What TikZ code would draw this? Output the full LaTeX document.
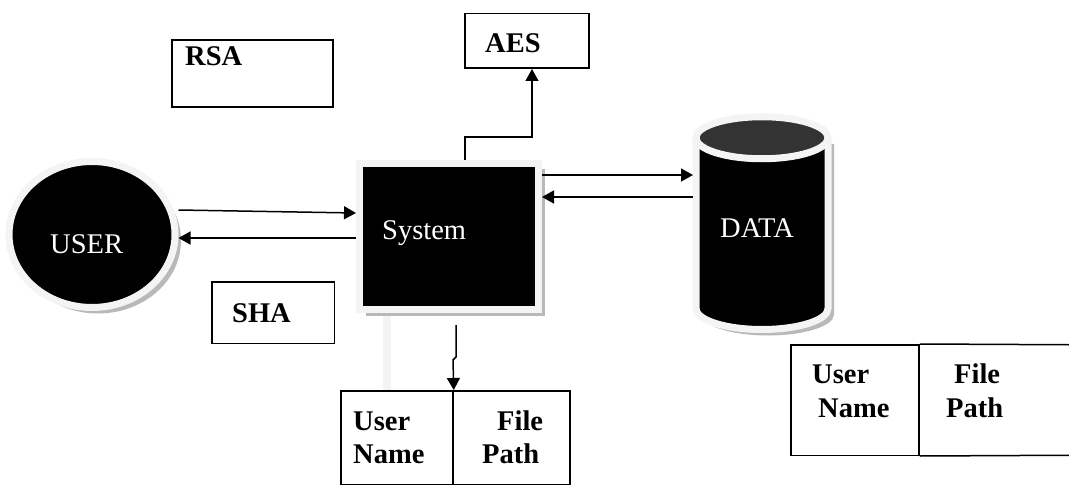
\documentclass[tikz,border=0pt]{standalone}
\usepackage{fontspec}
\setmainfont{Liberation Serif}
\usetikzlibrary{arrows.meta,shapes.geometric,shadows}

\begin{document}
\begin{tikzpicture}
      [%%%%%%%%%%%%%%%%%%%%%%%%%%%%%%
      x=1pt, y=-1pt,
      box/.style={rectangle,draw=black,line width=1.5pt,inner sep=0},
      frame/.style={draw=gray!9,line width=7pt,fill=black},
      shade/.style={drop shadow={shadow xshift=6pt,shadow yshift=-6pt,fill=gray!55,opacity=1}},
      word/.style={font=\fontsize{28.5}{33}\selectfont,text=white,inner sep=0,anchor=base west},
      tag/.style={font=\bfseries\fontsize{28.5}{33}\selectfont,inner sep=0,anchor=base west},
      arr/.style={line width=1.5pt,-{Triangle[length=12pt,width=13pt]}},
      ]%%%%%%%%%%%%%%%%%%%%%%%%%%%%%%

      \useasboundingbox (0,0) rectangle (1069,487);

      % user
      \node[ellipse,frame,shade,minimum width=166pt,minimum height=146pt] (user) at (92,234.5) {};
      \node[word] (usertxt) at (50,253) {USER};

      % system
      \fill[gray!9] (383,313) rectangle (391,390);
      \node[rectangle,frame,shade,minimum width=179pt,minimum height=146.5pt] (system) at (449,236.25) {};
      \node[word] (systxt) at (382,239) {System};

      % data
      \fill[gray!55,xshift=6pt,yshift=-6pt] (696,137.75) -- (696,308.5) arc (180:360:66pt and 21pt) -- (828,137.75) -- cycle;
      \draw[frame] (696,137.75) -- (696,308.5) arc (180:360:66pt and 21pt) -- (828,137.75);
      \draw[frame,fill=black!80] (762,137.75) ellipse [x radius=66pt,y radius=21pt];
      \node[inner sep=0,outer sep=0,minimum width=138pt,minimum height=216pt] (data) at (762,223) {};
      \node[word] (datatxt) at (720,237) {DATA};

      % boxes
      \node[box,line width=2pt,minimum width=161pt,minimum height=67pt] (rsa) at (252.5,73.5) {};
      \node[tag] (rsatxt) at (185,66) {RSA};
      \node[box,minimum width=124pt,minimum height=54.5pt] (aes) at (527,41) {};
      \node[tag] (aestxt) at (485,53) {AES};
      \node[box,minimum width=122.5pt,minimum height=61.5pt] (sha) at (273,312.5) {};
      \node[tag] (shatxt) at (232,322) {SHA};

      % tables
      \node[box,minimum width=112.25pt,minimum height=93.5pt] (tuser) at (396.9,437.5) {};
      \node[box,minimum width=117.25pt,minimum height=93.5pt] (tpath) at (511.6,437.5) {};
      \node[tag] (tuser1) at (353,430) {User};
      \node[tag] (tuser2) at (353,463) {Name};
      \node[tag] (tpath1) at (497,430) {File};
      \node[tag] (tpath2) at (482,463) {Path};

      \node[box,minimum width=128.25pt,minimum height=110.5pt] (cuser) at (854.9,400) {};
      \node[inner sep=0,outer sep=0,minimum width=150pt,minimum height=110.5pt] (cpath) at (994,400) {};
      \draw[line width=1.5pt] (cuser.north east) -- (cpath.north east);
      \draw[line width=1.5pt] (cuser.south east) -- (cpath.south east);
      \node[tag] (cuser1) at (812,383) {User};
      \node[tag] (cuser2) at (818,417) {Name};
      \node[tag] (cpath1) at (954,383) {File};
      \node[tag] (cpath2) at (946,417) {Path};

      % arrows
      \draw[arr] (user.east |- 0,210) -- (system.west |- 0,213);
      \draw[arr] (system.west |- 0,238) -- (user.east |- 0,238);
      \draw[arr] (system.east |- 0,175) -- (data.west |- 0,175);
      \draw[arr] (data.west |- 0,197) -- (system.east |- 0,197);
      \draw[arr] (system.north -| 465,0) |- (532,137) -- (aes.south -| 532,0);
      \coordinate (sysout) at (456,325);
      \draw[arr] (sysout) -- (456,357) -- (453,360) -- (tuser.north east);
\end{tikzpicture}
\end{document}
